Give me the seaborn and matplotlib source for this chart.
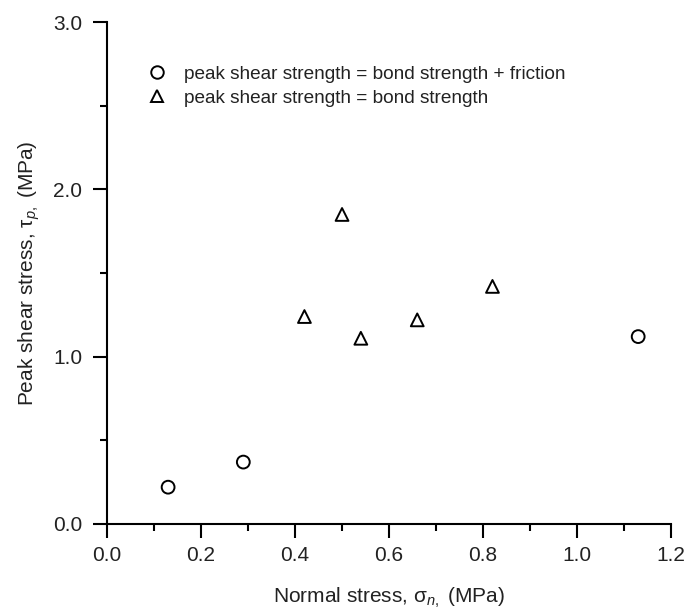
import matplotlib
matplotlib.use("Agg")
import matplotlib.pyplot as plt
from matplotlib.lines import Line2D
from matplotlib.ticker import MultipleLocator, FormatStrFormatter
import seaborn as sns
import pandas as pd

# Direct shear test results
circle_label = "peak shear strength = bond strength + friction"
triangle_label = "peak shear strength = bond strength"

friction_normal = [0.13, 0.29, 1.13]
friction_shear = [0.22, 0.37, 1.12]

bond_normal = [0.42, 0.50, 0.54, 0.66, 0.82]
bond_shear = [1.24, 1.85, 1.11, 1.22, 1.42]

x_ticks = [0.0, 0.2, 0.4, 0.6, 0.8, 1.0, 1.2]
y_ticks = [0.0, 1.0, 2.0, 3.0]

df = pd.DataFrame({
    "normal": friction_normal + bond_normal,
    "shear": friction_shear + bond_shear,
    "group": [circle_label] * len(friction_normal) + [triangle_label] * len(bond_normal),
})

sns.set_style("ticks")
plt.rcParams["font.family"] = ["Liberation Sans", "DejaVu Sans"]
plt.rcParams["mathtext.fontset"] = "custom"
plt.rcParams["mathtext.rm"] = "Liberation Sans"
plt.rcParams["mathtext.it"] = "Liberation Sans:italic"

fig = plt.figure(figsize=(6.89, 6.12), dpi=100)
ax = fig.add_axes([0.1553, 0.1438, 0.8187, 0.8202])

markers = {circle_label: "o", triangle_label: "^"}
sns.scatterplot(data=df, x="normal", y="shear", style="group", markers=markers,
                s=85, color="white", edgecolor="black", linewidth=1.4,
                legend=False, ax=ax, zorder=3, clip_on=False)

ax.set_xlim(0, 1.2)
ax.set_ylim(0, 3.0)
ax.set_xticks(x_ticks)
ax.set_yticks(y_ticks)
ax.xaxis.set_major_formatter(FormatStrFormatter("%.1f"))
ax.yaxis.set_major_formatter(FormatStrFormatter("%.1f"))
ax.xaxis.set_minor_locator(MultipleLocator(0.1))
ax.yaxis.set_minor_locator(MultipleLocator(0.5))

for side in ("top", "right"):
    ax.spines[side].set_visible(False)
for side in ("left", "bottom"):
    ax.spines[side].set_linewidth(1.5)
    ax.spines[side].set_color("black")

ax.tick_params(which="major", direction="out", length=10, width=1.5,
               colors="black", labelsize=15, labelcolor="#222222")
ax.tick_params(which="minor", direction="out", length=5, width=1.5, colors="black")
ax.tick_params(axis="x", which="major", pad=6)
ax.tick_params(axis="y", which="major", pad=8)

ax.set_xlabel(r"Normal stress, σ$_{n,}$ (MPa)", fontsize=15,
              labelpad=15, color="#222222")
ax.set_ylabel(r"Peak shear stress, τ$_{p,}$ (MPa)", fontsize=15,
              labelpad=8, color="#222222")

handles = [
    Line2D([], [], linestyle="none", marker="o", markersize=9, markerfacecolor="white",
           markeredgecolor="black", markeredgewidth=1.4, label=circle_label),
    Line2D([], [], linestyle="none", marker="^", markersize=9, markerfacecolor="white",
           markeredgecolor="black", markeredgewidth=1.4, label=triangle_label),
]
leg = ax.legend(handles=handles, loc="upper left", bbox_to_anchor=(0.058, 0.929),
                frameon=False, fontsize=13.7, handlelength=1.0, handletextpad=0.95,
                labelspacing=0.35, borderaxespad=0)
for t in leg.get_texts():
    t.set_color("#222222")

fig.savefig("out.png", dpi=100, facecolor="white")
